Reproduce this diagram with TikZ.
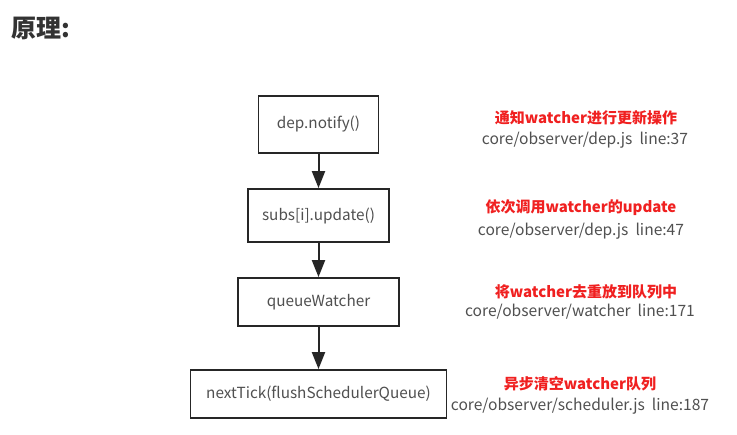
\documentclass[tikz,border=0pt]{standalone}
\usepackage{fontspec}
\setmainfont{Noto Sans CJK SC}
\usetikzlibrary{arrows.meta}
\definecolor{boxtext}{HTML}{505050}
\definecolor{redtxt}{HTML}{F02020}
\definecolor{graytxt}{HTML}{505050}
\tikzset{
  flowbox/.style={draw=black!85, line width=1.8pt, fill=white, text=boxtext, font=\fontsize{15.3}{17}\selectfont, inner sep=0pt},
  flowarrow/.style={line width=2pt, draw=black!85, -{Triangle[length=17pt,width=13pt]}},
  redlabel/.style={text=redtxt, font=\fontsize{15}{17}\selectfont\bfseries, inner sep=0pt},
  graylabel/.style={text=graytxt, font=\fontsize{15.6}{17}\selectfont, inner sep=0pt}
}
\begin{document}
\begin{tikzpicture}[x=1pt,y=-1pt]
\useasboundingbox (0,0) rectangle (737,435);
\fill[white] (0,0) rectangle (737,435);
\node[anchor=west, text=black!80, font=\fontsize{25}{28}\selectfont\bfseries, inner sep=0pt] (title) at (11,28) {原理:};

\node[flowbox, minimum width=120pt, minimum height=57pt] (b1) at (318.5,124.5) {dep.notify()};
\node[flowbox, minimum width=141pt, minimum height=53pt] (b2) at (318.5,215.5) {subs[i].update()};
\node[flowbox, minimum width=161pt, minimum height=48pt] (b3) at (318.5,302) {queueWatcher};
\node[flowbox, minimum width=256pt, minimum height=48pt] (b4) at (318.5,394) {nextTick(flushSchedulerQueue)};

\draw[flowarrow] (b1.south) -- (b2.north);
\draw[flowarrow] (b2.south) -- (b3.north);
\draw[flowarrow] (b3.south) -- (b4.north);

\node[redlabel] (r1) at (586,118) {通知watcher进行更新操作};
\node[graylabel] (g1) at (585,140) {core/observer/dep.js\ \ line:37};
\node[redlabel] (r2) at (581,208) {依次调用watcher的update};
\node[graylabel] (g2) at (581,231) {core/observer/dep.js\ \ line:47};
\node[redlabel] (r3) at (586,292) {将watcher去重放到队列中};
\node[graylabel] (g3) at (580,312) {core/observer/watcher\ \ line:171};
\node[redlabel] (r4) at (580,384) {异步清空watcher队列};
\node[graylabel] (g4) at (580,406) {core/observer/scheduler.js\ \ line:187};
\end{tikzpicture}
\end{document}
